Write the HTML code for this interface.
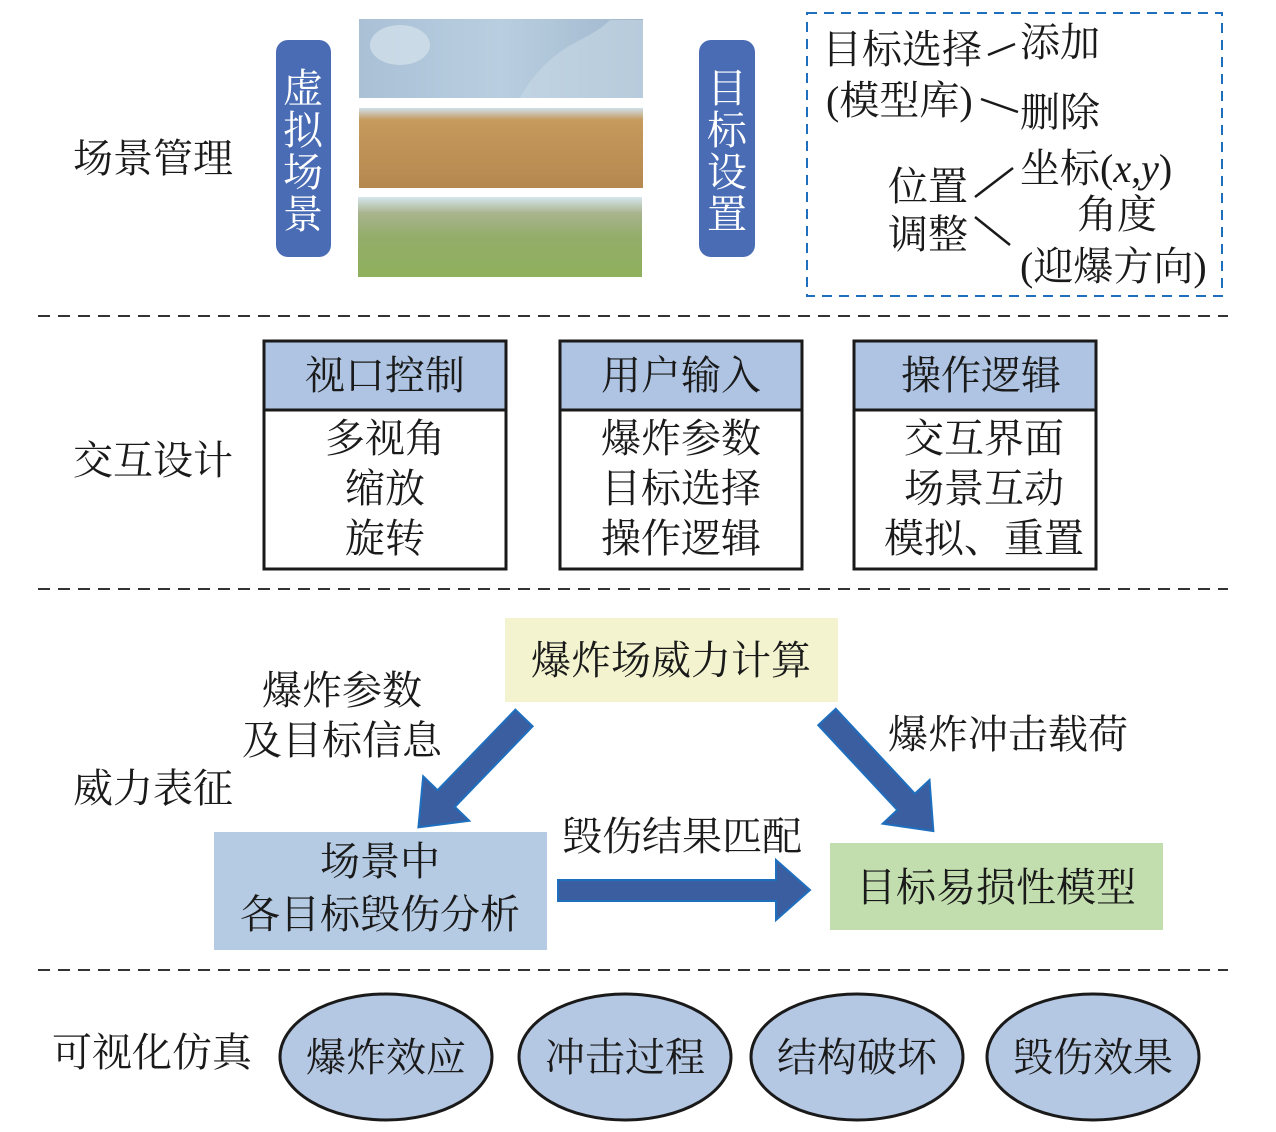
<!DOCTYPE html>
<html><head><meta charset="utf-8"><style>
html,body{margin:0;padding:0;background:#fff}
svg{display:block}
text{font-family:"Liberation Serif","Noto Serif CJK SC",serif;font-size:40px;fill:#1a1a1a}
</style></head><body>
<svg width="1276" height="1132" viewBox="0 0 1276 1132" xmlns="http://www.w3.org/2000/svg">
<defs>
<linearGradient id="sky" x1="0" y1="0" x2="1" y2="0"><stop offset="0" stop-color="#a9c0d6"/><stop offset="0.5" stop-color="#b9cfe0"/><stop offset="1" stop-color="#9fb6cc"/></linearGradient>
<linearGradient id="des" x1="0" y1="0" x2="0" y2="1"><stop offset="0" stop-color="#cfe0ea"/><stop offset="0.15" stop-color="#c69a5c"/><stop offset="1" stop-color="#b58850"/></linearGradient>
<linearGradient id="grn" x1="0" y1="0" x2="0" y2="1"><stop offset="0" stop-color="#d5e6ee"/><stop offset="0.2" stop-color="#a9b48e"/><stop offset="0.5" stop-color="#93ad6a"/><stop offset="1" stop-color="#8fb05c"/></linearGradient>
</defs>
<!-- dashed separators -->
<g stroke="#333" stroke-width="2" stroke-dasharray="12,8">
<line x1="38" y1="316" x2="1228" y2="316"/>
<line x1="38" y1="589" x2="1228" y2="589"/>
<line x1="38" y1="970" x2="1228" y2="970"/>
</g>
<!-- section 1 -->
<text x="73" y="172">场景管理</text>
<rect x="276" y="40" width="55" height="217" rx="12" fill="#4a6cb5"/>
<rect x="699" y="40" width="56" height="217" rx="12" fill="#4a6cb5"/>
<g style="fill:#fff">
<text x="303" y="102" text-anchor="middle" style="fill:#fff">虚</text>
<text x="303" y="144" text-anchor="middle" style="fill:#fff">拟</text>
<text x="303" y="186" text-anchor="middle" style="fill:#fff">场</text>
<text x="303" y="228" text-anchor="middle" style="fill:#fff">景</text>
<text x="727" y="102" text-anchor="middle" style="fill:#fff">目</text>
<text x="727" y="144" text-anchor="middle" style="fill:#fff">标</text>
<text x="727" y="186" text-anchor="middle" style="fill:#fff">设</text>
<text x="727" y="228" text-anchor="middle" style="fill:#fff">置</text>
</g>
<rect x="359" y="19" width="284" height="79" fill="url(#sky)"/>
<ellipse cx="400" cy="45" rx="30" ry="20" fill="#d6e2ec" opacity="0.7"/>
<path d="M520 98 Q540 60 580 40 Q600 30 610 20 L643 20 L643 98 Z" fill="#c8d8e6" opacity="0.6"/>
<rect x="359" y="108" width="284" height="80" fill="url(#des)"/>
<rect x="358" y="197" width="284" height="80" fill="url(#grn)"/>
<!-- dashed box -->
<rect x="807" y="13" width="415" height="283" fill="none" stroke="#1f6fbf" stroke-width="2" stroke-dasharray="10,7"/>
<text x="822" y="63">目标选择</text>
<text x="1020" y="56">添加</text>
<text x="826" y="114">(模型库)</text>
<text x="1020" y="126">删除</text>
<text x="888" y="200">位置</text>
<text x="888" y="248">调整</text>
<text x="1020" y="182">坐标(<tspan font-style="italic">x</tspan>,<tspan font-style="italic">y</tspan>)</text>
<text x="1077" y="228">角度</text>
<text x="1020" y="280">(迎爆方向)</text>
<g stroke="#1a1a1a" stroke-width="2.5">
<line x1="988" y1="55" x2="1015" y2="44"/>
<line x1="981" y1="99" x2="1018" y2="112"/>
<line x1="975" y1="197" x2="1013" y2="168"/>
<line x1="975" y1="217" x2="1010" y2="245"/>
</g>
<!-- section 2 -->
<text x="73" y="474">交互设计</text>
<g stroke="#1a1a1a" stroke-width="3">
<rect x="264" y="341" width="242" height="228" fill="#fff"/>
<rect x="264" y="341" width="242" height="69" fill="#aec4e2"/>
<rect x="560" y="341" width="242" height="228" fill="#fff"/>
<rect x="560" y="341" width="242" height="69" fill="#aec4e2"/>
<rect x="854" y="341" width="242" height="228" fill="#fff"/>
<rect x="854" y="341" width="242" height="69" fill="#aec4e2"/>
</g>
<g text-anchor="middle">
<text x="385" y="389">视口控制</text>
<text x="385" y="452">多视角</text>
<text x="385" y="502">缩放</text>
<text x="385" y="552">旋转</text>
<text x="681" y="389">用户输入</text>
<text x="681" y="452">爆炸参数</text>
<text x="681" y="502">目标选择</text>
<text x="681" y="552">操作逻辑</text>
<text x="981" y="389">操作逻辑</text>
<text x="984" y="452">交互界面</text>
<text x="984" y="502">场景互动</text>
<text x="984" y="552">模拟、重置</text>
</g>
<!-- section 3 -->
<rect x="505" y="618" width="333" height="84" fill="#f3f4cf"/>
<text x="671" y="674" text-anchor="middle">爆炸场威力计算</text>
<rect x="214" y="832" width="333" height="118" fill="#b5cae3"/>
<text x="380" y="875" text-anchor="middle">场景中</text>
<text x="380" y="928" text-anchor="middle">各目标毁伤分析</text>
<rect x="830" y="843" width="333" height="87" fill="#c3deae"/>
<text x="996" y="901" text-anchor="middle">目标易损性模型</text>
<text x="342" y="704" text-anchor="middle">爆炸参数</text>
<text x="342" y="754" text-anchor="middle">及目标信息</text>
<text x="73" y="802">威力表征</text>
<text x="888" y="748">爆炸冲击载荷</text>
<text x="562" y="850">毁伤结果匹配</text>
<g fill="#3a5ea0" stroke="#1f6fbf" stroke-width="2">
<polygon points="0,-12 112,-12 112,-32 152,0 112,32 112,12 0,12" transform="translate(524,718) rotate(134)"/>
<polygon points="0,-12 116,-12 116,-32 156,0 116,32 116,12 0,12" transform="translate(827,717) rotate(47)"/>
<polygon points="558,880 776,880 776,860 810,890 776,920 776,901 558,901"/>
</g>
<!-- section 4 -->
<text x="52" y="1066">可视化仿真</text>
<g fill="#b5c8e3" stroke="#1a1a1a" stroke-width="3">
<ellipse cx="386" cy="1057" rx="106" ry="63"/>
<ellipse cx="625" cy="1057" rx="106" ry="63"/>
<ellipse cx="857" cy="1057" rx="106" ry="63"/>
<ellipse cx="1093" cy="1057" rx="106" ry="63"/>
</g>
<g text-anchor="middle">
<text x="386" y="1071">爆炸效应</text>
<text x="625" y="1071">冲击过程</text>
<text x="857" y="1071">结构破坏</text>
<text x="1093" y="1071">毁伤效果</text>
</g>
</svg>
</body></html>
